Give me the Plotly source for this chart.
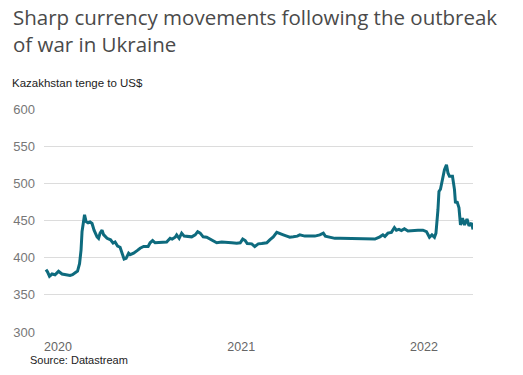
import plotly.graph_objects as go

dates = [
    "2020-01-01", "2020-01-04", "2020-01-08", "2020-01-13", "2020-01-19", "2020-01-26",
    "2020-02-02", "2020-02-12", "2020-02-18", "2020-02-23", "2020-02-28", "2020-03-04",
    "2020-03-08", "2020-03-11", "2020-03-13", "2020-03-16", "2020-03-18", "2020-03-21",
    "2020-03-25", "2020-03-29", "2020-04-02", "2020-04-06", "2020-04-12", "2020-04-15",
    "2020-04-18", "2020-04-22", "2020-04-25", "2020-05-02", "2020-05-09", "2020-05-14",
    "2020-05-18", "2020-05-23", "2020-05-28", "2020-06-01", "2020-06-05", "2020-06-09",
    "2020-06-14", "2020-06-17", "2020-06-24", "2020-07-01", "2020-07-07", "2020-07-14",
    "2020-07-23", "2020-07-27", "2020-08-01", "2020-08-06", "2020-08-13", "2020-08-19",
    "2020-08-29", "2020-09-05", "2020-09-09", "2020-09-15", "2020-09-18", "2020-09-23",
    "2020-09-28", "2020-10-03", "2020-10-11", "2020-10-18", "2020-10-25", "2020-10-30",
    "2020-11-04", "2020-11-10", "2020-11-17", "2020-11-24", "2020-12-01", "2020-12-07",
    "2020-12-17", "2020-12-27", "2021-01-06", "2021-01-16", "2021-01-23", "2021-01-28",
    "2021-02-02", "2021-02-06", "2021-02-15", "2021-02-21", "2021-02-28", "2021-03-07",
    "2021-03-17", "2021-03-23", "2021-03-30", "2021-04-06", "2021-04-12", "2021-04-19",
    "2021-04-26", "2021-05-02", "2021-05-09", "2021-05-17", "2021-05-22", "2021-06-01",
    "2021-06-11", "2021-06-21", "2021-07-01", "2021-07-08", "2021-07-12", "2021-07-21",
    "2021-07-31", "2021-08-10", "2021-08-20", "2021-08-30", "2021-09-09", "2021-09-19",
    "2021-09-29", "2021-10-09", "2021-10-19", "2021-10-29", "2021-11-04", "2021-11-08",
    "2021-11-14", "2021-11-21", "2021-11-27", "2021-12-01", "2021-12-06", "2021-12-11",
    "2021-12-17", "2021-12-24", "2022-01-03", "2022-01-13", "2022-01-23", "2022-01-30",
    "2022-02-05", "2022-02-10", "2022-02-15", "2022-02-18", "2022-02-22", "2022-02-24",
    "2022-02-27", "2022-03-03", "2022-03-07", "2022-03-11", "2022-03-14", "2022-03-17",
    "2022-03-23", "2022-03-27", "2022-03-29", "2022-04-01", "2022-04-05", "2022-04-08",
    "2022-04-12", "2022-04-16", "2022-04-21", "2022-04-25", "2022-04-30", "2022-05-03",
]

tenge_per_usd = [
    384, 381, 375, 378, 377, 381.6,
    378, 377, 376, 377, 380, 382,
    392, 410, 435, 451, 457.7, 448.6,
    447, 448, 446, 437, 428, 426,
    433, 437, 431, 426, 424, 419.5,
    421, 415.7, 414, 406, 398, 399,
    406, 404, 406, 409.5, 412.7, 415,
    415, 420, 423, 420, 420, 420,
    421, 426, 425, 427.5, 430.7, 426,
    433, 429, 429, 428, 430.7, 435,
    433, 428, 427.5, 425, 423, 420,
    421, 421, 420, 419.5, 420, 425,
    423, 419, 418.6, 415, 418.6, 419,
    420, 424, 428, 434, 432, 430.7,
    429, 427.5, 428, 429, 430.7, 429,
    429, 429, 430.7, 433, 429, 428,
    426, 426, 426, 426, 425, 426,
    425, 426, 425, 428, 430.7, 428.5,
    433, 434, 440.5, 437, 438, 436.4,
    439, 436, 437, 437, 437, 435,
    427.5, 430.7, 427.5, 433, 464.5, 489,
    492, 507, 518.5, 525, 514, 509.5,
    509.5, 491.5, 473.5, 475.7, 467, 444,
    453, 444, 452, 443, 446.6, 438,
]

y_ticks = [300, 350, 400, 450, 500, 550, 600]
x_tick_dates = ["2020-01-01", "2021-01-01", "2022-01-01"]
x_tick_labels = ["2020", "2021", "2022"]
title_lines = ["Sharp currency movements following the outbreak", "of war in Ukraine"]
subtitle = "Kazakhstan tenge to US$"
source = "Source: Datastream"

PW, PH = 429, 223  # plot area size in px

fig = go.Figure()
fig.add_trace(go.Scatter(
    x=dates, y=tenge_per_usd, mode="lines",
    line=dict(color="#0e6b7e", width=3),
    hoverinfo="x+y", showlegend=False,
))

fig.update_layout(
    width=523, height=375,
    margin=dict(l=44, r=50, t=109, b=43),
    paper_bgcolor="white", plot_bgcolor="white",
    font=dict(family="Liberation Sans, Arial, sans-serif", color="#666666"),
    xaxis=dict(
        range=["2019-12-28", "2022-05-03"],
        tickvals=x_tick_dates, ticktext=x_tick_labels,
        ticklabelshift=12, ticklabelstandoff=5,
        showgrid=False, zeroline=False, showline=False, ticks="",
        tickfont=dict(size=12.5, color="#666666"),
    ),
    yaxis=dict(
        range=[300, 600], tickvals=y_ticks,
        showgrid=True, gridcolor="#dcdcdc", gridwidth=1,
        zeroline=False, showline=False, ticks="",
        ticklabelstandoff=8,
        tickfont=dict(size=13, color="#777777"),
    ),
)

title_font = dict(family="Open Sans, sans-serif", size=20.5, color="#4a4a4a")
fig.add_annotation(text=title_lines[0], xref="paper", yref="paper",
                   x=-33 / PW, y=1 + 92 / PH, xanchor="left", yanchor="middle",
                   showarrow=False, font=title_font)
fig.add_annotation(text=title_lines[1], xref="paper", yref="paper",
                   x=-33 / PW, y=1 + 65 / PH, xanchor="left", yanchor="middle",
                   showarrow=False, font=title_font)
fig.add_annotation(text=subtitle, xref="paper", yref="paper",
                   x=-34 / PW, y=1 + 26 / PH, xanchor="left", yanchor="middle",
                   showarrow=False,
                   font=dict(family="Liberation Sans, Arial, sans-serif", size=11.5, color="#222222"))
fig.add_annotation(text=source, xref="paper", yref="paper",
                   x=-16 / PW, y=-28 / PH, xanchor="left", yanchor="middle",
                   showarrow=False,
                   font=dict(family="Liberation Sans, Arial, sans-serif", size=11, color="#222222"))

fig.write_html("out.html", config={"displayModeBar": False},
               post_script="document.body.style.margin='0';")
